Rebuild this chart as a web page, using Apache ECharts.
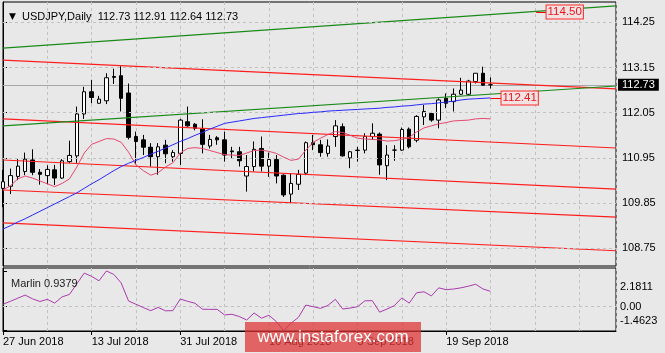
<!DOCTYPE html>
<html><head><meta charset="utf-8">
<script src="https://cdn.jsdelivr.net/npm/echarts@6/dist/echarts.min.js"></script>
<style>html,body{margin:0;padding:0;background:#e8e8e8;}#c{width:665px;height:353px;}</style>
</head><body><div id="c"></div>
<script>
const symbolName = 'USDJPY,Daily';
const lastOHLC = ['112.73', '112.91', '112.64', '112.73'];
const opens = [110.21,110.26,110.50,110.62,110.90,110.60,110.52,110.66,110.46,110.86,
111.00,112.02,112.56,112.28,112.34,112.93,112.95,112.53,111.47,111.39,
111.21,110.98,111.26,110.98,111.06,111.83,111.77,111.65,111.24,111.44,
111.39,111.12,111.10,110.51,110.74,111.18,110.75,110.91,110.53,110.07,
110.31,110.58,111.32,111.27,111.06,111.47,111.71,110.95,111.13,111.14,
111.47,111.53,110.76,111.14,111.14,111.65,111.38,111.95,112.03,111.87,
112.40,112.32,112.50,112.50,112.81,113.01,112.73];
const highs = [110.66,110.69,110.94,111.08,111.16,110.68,110.77,110.78,110.92,111.37,
112.20,112.68,112.85,112.46,113.01,113.12,113.18,112.76,111.59,111.51,
111.31,111.31,111.39,111.14,111.90,112.20,111.80,111.89,111.51,111.48,
111.59,111.22,111.22,111.02,111.35,111.47,111.08,111.02,110.55,110.58,
110.66,111.35,111.51,111.39,111.40,111.87,111.79,111.12,111.22,111.55,
111.79,111.57,111.26,111.26,111.69,111.69,111.99,112.24,112.07,112.40,
112.52,112.64,112.90,112.85,113.01,113.17,112.91];
const lows = [109.75,110.07,110.41,110.53,110.53,110.30,110.31,110.29,110.44,110.83,
110.83,111.90,112.28,112.27,112.26,112.75,112.08,111.40,110.80,111.02,
110.74,110.54,110.82,110.86,110.78,111.71,111.62,111.06,111.18,111.27,
110.86,110.94,110.74,110.13,110.62,110.62,110.49,110.33,110.00,109.85,
110.17,110.53,111.14,110.98,110.98,111.22,110.98,110.70,110.86,111.06,
111.39,110.54,110.41,110.88,111.12,111.18,111.33,111.75,111.83,111.67,
112.16,112.08,112.48,112.48,112.76,112.71,112.64];
const closes = [110.37,110.52,110.75,110.92,110.60,110.55,110.67,110.46,110.88,111.01,
112.02,112.56,112.42,112.38,112.90,112.91,112.40,111.45,111.35,111.21,
110.98,111.22,111.05,111.08,111.87,111.73,111.67,111.28,111.40,111.39,
111.02,111.10,110.88,110.74,111.16,110.75,110.91,110.51,110.05,110.33,
110.55,111.32,111.27,111.08,111.24,111.73,111.00,111.10,111.14,111.47,
111.55,110.78,111.02,111.14,111.64,111.22,111.96,112.08,111.87,112.36,
112.28,112.50,112.60,112.82,113.01,112.72,112.73];
const maBlue = [109.22,109.30,109.39,109.47,109.56,109.65,109.74,109.83,109.92,110.01,
110.10,110.21,110.32,110.42,110.53,110.64,110.74,110.82,110.89,110.96,
111.04,111.11,111.19,111.27,111.35,111.42,111.50,111.57,111.65,111.72,
111.79,111.82,111.85,111.88,111.91,111.93,111.95,111.97,111.99,112.01,
112.03,112.04,112.06,112.07,112.09,112.10,112.11,112.12,112.13,112.14,
112.15,112.16,112.18,112.19,112.21,112.22,112.24,112.26,112.27,112.29,
112.31,112.33,112.36,112.38,112.39,112.40,112.41];
const maPink = [110.17,110.27,110.44,110.51,110.46,110.39,110.32,110.25,110.33,110.44,
110.73,111.07,111.28,111.35,111.42,111.41,111.33,111.09,110.78,110.64,
110.53,110.59,110.73,110.83,111.07,111.18,111.20,111.18,111.13,111.08,
111.03,111.02,111.01,111.07,111.13,111.14,111.11,111.06,110.97,110.89,
110.92,111.14,111.33,111.43,111.52,111.59,111.57,111.50,111.43,111.41,
111.40,111.39,111.36,111.37,111.40,111.45,111.58,111.68,111.73,111.78,
111.81,111.85,111.86,111.87,111.90,111.91,111.90];
const marlin = [0.15,0.33,0.52,0.71,0.48,0.32,0.45,0.22,0.60,0.75,
1.40,2.05,1.85,1.58,2.18,1.97,1.45,0.35,0.15,-0.05,
-0.24,-0.04,-0.25,-0.24,0.47,0.33,0.21,-0.15,-0.16,-0.16,
-0.50,-0.46,-0.60,-0.81,-0.38,-0.70,-0.52,-0.90,-1.46,-1.00,
-0.65,0.10,0.00,-0.10,0.08,0.45,-0.14,-0.08,0.00,0.36,
0.37,-0.33,-0.14,0.07,0.54,0.22,0.85,0.91,0.66,1.15,
1.04,1.08,1.15,1.25,1.37,1.08,0.94];
const marlinLast = '0.9379';
const tickBars = [0, 12, 24, 36, 48, 60];
const tickLabels = ['27 Jun 2018', '13 Jul 2018', '31 Jul 2018', '16 Aug 2018', '3 Sep 2018', '19 Sep 2018'];
const priceTicks = [108.75, 109.85, 110.95, 112.05, 113.15, 114.25];
const marlinTicks = [2.1811, 0, -1.4623];
const marlinTickLabels = ['2.1811', '0.00', '-1.4623'];
const bid = 112.73;
const trendX = [0, 83];
const greenLines = [[113.62, 114.65], [111.73, 112.70]];
const redLines = [[113.33, 112.63], [111.90, 111.19], [110.90, 110.19], [110.17, 109.51], [109.37, 108.69]];
const greenTag = { bars: [72.2, 73.6], value: 114.50, text: '114.50' };
const blueTag = { bars: [66, 67.5], value: 112.41, text: '112.41' };

const FONT = 'Liberation Sans';
const gridDash = { color: '#c2c2c2', type: [3, 3], width: 1 };

function tagMarkLine(tag) {
  return {
    silent: true, symbol: ['none', 'none'], animation: false,
    lineStyle: { color: '#ff0000', width: 1, type: 'solid' },
    label: {
      show: true, position: 'end', distance: 0, formatter: tag.text,
      color: '#e8141e', fontSize: 11.5, fontFamily: FONT,
      backgroundColor: '#f2e2e2', borderColor: '#ff2a2a', borderWidth: 1,
      padding: [1, 1, 0, 1]
    },
    data: [[{ coord: [tag.bars[0], tag.value] }, { coord: [tag.bars[1], tag.value] }]]
  };
}

const series = [];
// horizontal price grid (dashed) drawn at the price tick levels
series.push({
  type: 'line', xAxisIndex: 0, yAxisIndex: 0, data: [], z: 1, silent: true,
  markLine: {
    silent: true, symbol: ['none', 'none'], label: { show: false },
    lineStyle: gridDash, data: priceTicks.map((v) => ({ yAxis: v }))
  }
});
series.push({
  type: 'candlestick', xAxisIndex: 0, yAxisIndex: 0, barWidth: 4, z: 3,
  data: opens.map((o, i) => [i, o, closes[i], lows[i], highs[i]]),
  encode: { x: 0, y: [1, 2, 3, 4] },
  itemStyle: { color: '#ffffff', color0: '#000000', borderColor: '#000000', borderColor0: '#000000', borderWidth: 1 },
  markLine: {
    silent: true, symbol: ['none', 'none'], z: 1,
    lineStyle: { color: '#a8a8a8', width: 1, type: 'solid' },
    label: { show: true, position: 'end', distance: 2, formatter: bid.toFixed(2), color: '#fff',
      backgroundColor: '#000', padding: [1, 4, 0, 4], fontSize: 11, fontFamily: FONT },
    data: [{ yAxis: bid }]
  }
});
redLines.forEach((r) => series.push({
  type: 'line', xAxisIndex: 0, yAxisIndex: 0, showSymbol: false, z: 4,
  data: [[trendX[0], r[0]], [trendX[1], r[1]]],
  lineStyle: { color: '#ff1e1e', width: 1.1 }
}));
greenLines.forEach((g, k) => series.push({
  type: 'line', xAxisIndex: 0, yAxisIndex: 0, showSymbol: false, z: 4,
  data: [[trendX[0], g[0]], [trendX[1], g[1]]],
  lineStyle: { color: '#1b8a1b', width: 1.2 },
  markLine: k === 0 ? tagMarkLine(greenTag) : undefined
}));
series.push({
  type: 'line', xAxisIndex: 0, yAxisIndex: 0, showSymbol: false, z: 5,
  data: maPink.map((v, i) => [i, v]),
  lineStyle: { color: '#e6486e', width: 1 }
});
series.push({
  type: 'line', xAxisIndex: 0, yAxisIndex: 0, showSymbol: false, z: 5,
  data: maBlue.map((v, i) => [i, v]),
  lineStyle: { color: '#2828ff', width: 1 },
  markLine: tagMarkLine(blueTag)
});
series.push({
  type: 'line', xAxisIndex: 1, yAxisIndex: 1, showSymbol: false, z: 5,
  data: marlin.map((v, i) => [i, v]),
  lineStyle: { color: '#a93aae', width: 1 },
  markLine: {
    silent: true, symbol: ['none', 'none'], label: { show: false },
    lineStyle: gridDash, data: [{ yAxis: 0 }]
  }
});

const chart = echarts.init(document.getElementById('c'));
chart.setOption({
  animation: false,
  backgroundColor: '#e8e8e8',
  textStyle: { fontFamily: FONT },
  title: [
    { text: '{t|▼}  ' + symbolName + '  ' + lastOHLC.join(' '), left: 4, top: 6,
      textStyle: { fontSize: 11, fontWeight: 'normal', color: '#000', fontFamily: FONT,
        rich: { t: { fontSize: 9, fontFamily: 'DejaVu Sans', color: '#000' } } } },
    { text: 'Marlin ' + marlinLast, left: 6, top: 273,
      textStyle: { fontSize: 11, fontWeight: 'normal', color: '#222', fontFamily: FONT } }
  ],
  grid: [
    { left: 3, right: 49, top: 2, height: 264, show: true, borderColor: '#000', borderWidth: 1, backgroundColor: 'transparent' },
    { left: 3, right: 49, top: 268, height: 63, show: true, borderColor: '#000', borderWidth: 1, backgroundColor: 'transparent' }
  ],
  xAxis: [
    { type: 'value', gridIndex: 0, min: 0, max: 83, interval: 6,
      axisLine: { show: false }, axisTick: { show: false }, axisLabel: { show: false },
      splitLine: { show: true, lineStyle: gridDash } },
    { type: 'value', gridIndex: 1, min: 0, max: 83, interval: 6,
      axisLine: { show: false }, axisTick: { show: false }, axisLabel: { show: false },
      splitLine: { show: true, lineStyle: gridDash } },
    { type: 'value', gridIndex: 1, min: 0, max: 83, position: 'bottom',
      axisLine: { show: true, lineStyle: { color: '#000', width: 1 } },
      axisTick: { show: true, customValues: tickBars, length: 4, lineStyle: { color: '#000' } },
      axisLabel: { show: true, customValues: tickBars, align: 'left', margin: 5, fontSize: 11, color: '#000',
        formatter: (v) => { const k = tickBars.indexOf(Math.round(v)); return k >= 0 ? tickLabels[k] : ''; } },
      splitLine: { show: false } }
  ],
  yAxis: [
    { type: 'value', gridIndex: 0, position: 'right', min: 108.32, max: 114.744,
      axisLine: { show: true, lineStyle: { color: '#000' } },
      axisTick: { show: true, customValues: priceTicks, length: 4, lineStyle: { color: '#000' } },
      axisLabel: { show: true, customValues: priceTicks, margin: 6, fontSize: 11, color: '#000',
        formatter: (v) => v.toFixed(2) },
      splitLine: { show: false } },
    { type: 'value', gridIndex: 1, position: 'right', min: -1.48, max: 2.36,
      axisLine: { show: true, lineStyle: { color: '#000' } },
      axisTick: { show: true, customValues: marlinTicks, length: 4, lineStyle: { color: '#000' } },
      axisLabel: { show: true, customValues: marlinTicks, margin: 4, fontSize: 11, color: '#000',
        formatter: (v) => {
          let k = 0, best = Infinity;
          marlinTicks.forEach((t, j) => { const d = Math.abs(t - v); if (d < best) { best = d; k = j; } });
          if (k === 0) return '{hi|' + marlinTickLabels[k] + '}';
          if (k === marlinTicks.length - 1) return '{lo|' + marlinTickLabels[k] + '}';
          return marlinTickLabels[k];
        },
        rich: {
          hi: { fontSize: 11, color: '#000', lineHeight: 44, verticalAlign: 'bottom' },
          lo: { fontSize: 11, color: '#000', lineHeight: 30, verticalAlign: 'top' }
        } },
      splitLine: { show: false } }
  ],
  graphic: [
    { type: 'rect', z: 100, silent: true, shape: { x: 245, y: 322, width: 176, height: 30 },
      style: { fill: 'rgba(222,52,52,0.74)' } },
    { type: 'text', z: 101, silent: true, x: 333, y: 337,
      style: { text: 'www.instaforex.com', fill: '#ffffff', fontSize: 17, fontFamily: FONT,
        align: 'center', verticalAlign: 'middle' } }
  ],
  series: series
});
</script>
</body></html>
